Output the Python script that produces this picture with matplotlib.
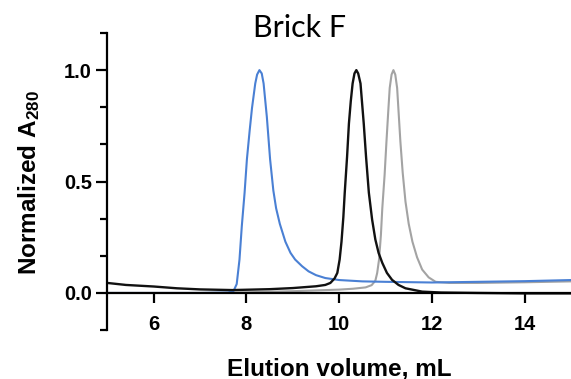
import matplotlib.pyplot as plt
from matplotlib.ticker import MultipleLocator

# SEC traces: elution volume (mL) vs normalized A280
blue_x = [5.0, 6.0, 7.0, 7.6, 7.72, 7.79, 7.85, 7.90, 7.96, 8.01, 8.07, 8.12, 8.19, 8.23,
          8.28, 8.33, 8.37, 8.44, 8.51, 8.58, 8.64, 8.72, 8.84, 8.95, 9.05, 9.2, 9.34, 9.5,
          9.70, 10.0, 10.5, 11.0, 12.0, 13.0, 14.0, 15.0]
blue_y = [0.0, 0.0, 0.0, 0.002, 0.008, 0.04, 0.15, 0.30, 0.45, 0.60, 0.73, 0.83, 0.94, 0.98,
          1.0, 0.985, 0.94, 0.79, 0.60, 0.46, 0.38, 0.31, 0.23, 0.18, 0.15, 0.12, 0.097, 0.08,
          0.067, 0.058, 0.052, 0.05, 0.047, 0.05, 0.053, 0.058]

black_x = [5.0, 5.4, 6.0, 6.5, 7.0, 7.7, 8.5, 9.0, 9.5, 9.7, 9.81, 9.9, 9.96, 10.01, 10.05,
           10.09, 10.12, 10.17, 10.21, 10.25, 10.29, 10.33, 10.37, 10.41, 10.46, 10.53, 10.58,
           10.64, 10.71, 10.78, 10.85, 10.93, 11.03, 11.14, 11.28, 11.43, 11.79, 12.2, 13.0,
           14.0, 15.0]
black_y = [0.045, 0.036, 0.029, 0.021, 0.016, 0.013, 0.017, 0.022, 0.03, 0.036, 0.045, 0.065,
           0.09, 0.15, 0.23, 0.34, 0.45, 0.61, 0.76, 0.86, 0.94, 0.985, 1.0, 0.985, 0.94, 0.76,
           0.61, 0.45, 0.33, 0.24, 0.18, 0.135, 0.09, 0.059, 0.036, 0.021, 0.006, 0.002, 0.0,
           -0.002, -0.002]

grey_x = [5.0, 7.0, 8.0, 9.0, 10.0, 10.3, 10.57, 10.7, 10.78, 10.82, 10.86, 10.90, 10.93,
          10.98, 11.02, 11.06, 11.09, 11.13, 11.17, 11.21, 11.25, 11.32, 11.37, 11.43, 11.50,
          11.58, 11.68, 11.79, 11.93, 12.08, 12.37, 13.0, 14.0, 15.0]
grey_y = [0.0, 0.0, 0.003, 0.008, 0.015, 0.019, 0.025, 0.035, 0.055, 0.09, 0.15, 0.26, 0.38,
          0.53, 0.68, 0.82, 0.92, 0.98, 1.0, 0.98, 0.92, 0.68, 0.54, 0.41, 0.31, 0.23, 0.16,
          0.105, 0.07, 0.05, 0.045, 0.045, 0.048, 0.052]

x_ticks = [6, 8, 10, 12, 14]
y_ticks = [0.0, 0.5, 1.0]
y_tick_labels = ["0.0", "0.5", "1.0"]

plt.rcParams['font.family'] = ['Liberation Sans', 'DejaVu Sans']
plt.rcParams['mathtext.fontset'] = 'custom'
plt.rcParams['mathtext.rm'] = 'Liberation Sans:bold'
plt.rcParams['mathtext.bf'] = 'Liberation Sans:bold'
plt.rcParams['mathtext.it'] = 'Liberation Sans:bold'

fig = plt.figure(figsize=(5.71, 3.79), dpi=100)
ax = fig.add_axes([0.188, 0.129, 0.812, 0.784])

ax.plot(grey_x, grey_y, color='#a3a3a3', lw=1.5)
ax.plot(blue_x, blue_y, color='#4a80d4', lw=1.5)
ax.plot(black_x, black_y, color='#111111', lw=1.7)

ax.set_xlim(5, 15)
ax.set_ylim(-1 / 6, 7 / 6)

# spines like the original: y axis on the left, x axis drawn at y = 0
for side in ['top', 'right']:
    ax.spines[side].set_visible(False)
ax.spines['bottom'].set_position(('data', 0))
ax.spines['left'].set_linewidth(1.6)
ax.spines['bottom'].set_linewidth(1.6)

ax.set_xticks(x_ticks)
ax.set_yticks(y_ticks)
ax.set_yticklabels(y_tick_labels)
ax.yaxis.set_minor_locator(MultipleLocator(1 / 6))
ax.tick_params(axis='y', which='major', direction='out', length=8, width=1.6,
               labelsize=14.5, pad=3)
ax.tick_params(axis='x', which='major', direction='out', length=7, width=1.6,
               labelsize=14.5, pad=9)
ax.tick_params(axis='y', which='minor', direction='out', length=5, width=1.6)
for lab in ax.get_xticklabels() + ax.get_yticklabels():
    lab.set_fontweight('bold')

ax.set_xlabel('Elution volume, mL', fontsize=17.5, fontweight='bold')
ax.xaxis.set_label_coords(0.5, -0.092)
ax.set_ylabel('Normalized A$_{280}$', fontsize=17.5, fontweight='bold')
ax.yaxis.set_label_coords(-0.14, 0.497)

fig.text(0.525, 0.888, 'Brick F', fontsize=22, family='Lato', ha='center', va='bottom')

fig.savefig('out.png', dpi=100)
